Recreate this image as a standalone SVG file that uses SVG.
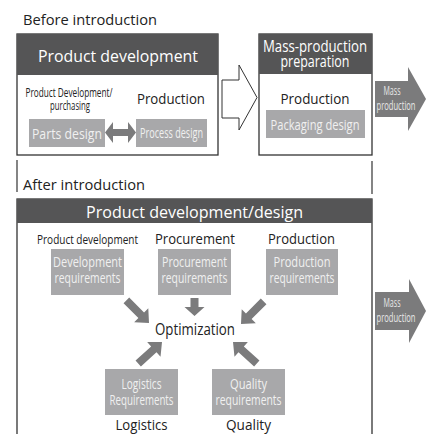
<svg xmlns="http://www.w3.org/2000/svg" xmlns:xlink="http://www.w3.org/1999/xlink" width="427" height="434" viewBox="0 0 427 434">
<style>
text{font-family:"Open Sans","Noto Sans","DejaVu Sans",sans-serif;font-weight:400;}
.frame{fill:#fff;stroke:#333;stroke-width:1.3;}
.hdr{fill:#555556;}
.hdrt{fill:#fff;font-size:16px;text-anchor:middle;}
.lbl{fill:#222;font-size:14px;text-anchor:middle;}
.sm{fill:#222;font-size:13px;text-anchor:middle;}
.gbox{fill:#a8a8aa;}
.gt{fill:#f0f0f0;font-size:14px;text-anchor:middle;}
.ar{fill:#7b7b7c;}
.mt{fill:#e8e8e8;font-size:12px;text-anchor:middle;}
.vl{stroke:#333;stroke-width:1.2;fill:none;}
</style>
<defs>
<path id="aL" d="M-32,-4 L-11,-4 L-11,-10 L0,0 L-11,10 L-11,4 L-32,4 Z"/>
<path id="aS" d="M-18,-4 L-9,-4 L-9,-10 L0,0 L-9,10 L-9,4 L-18,4 Z"/>
</defs>

<text x="23" y="25" font-size="14.5" fill="#222" textLength="134" lengthAdjust="spacingAndGlyphs">Before introduction</text>

<g id="product-development">
<rect class="frame" x="17" y="34" width="201" height="121"/>
<rect class="hdr" x="17" y="34" width="201" height="41"/>
<text class="hdrt" x="118" y="62" font-size="17" textLength="160" lengthAdjust="spacingAndGlyphs">Product development</text>
<text class="sm" x="69" y="97" textLength="87" lengthAdjust="spacingAndGlyphs">Product Development/</text>
<text class="sm" x="70" y="110" textLength="40" lengthAdjust="spacingAndGlyphs">purchasing</text>
<text class="lbl" x="171" y="104" textLength="68" lengthAdjust="spacingAndGlyphs">Production</text>
</g>

<g id="parts-design">
<rect class="gbox" x="29" y="119" width="76" height="28"/>
<text class="gt" x="67" y="139" font-size="16" textLength="70" lengthAdjust="spacingAndGlyphs">Parts design</text>
</g>
<g id="process-design">
<rect class="gbox" x="136" y="119" width="71" height="28"/>
<text class="gt" x="171.5" y="138" font-size="15" textLength="63" lengthAdjust="spacingAndGlyphs">Process design</text>
</g>

<g id="mass-production-preparation">
<rect class="frame" x="259" y="34" width="113" height="121"/>
<rect class="hdr" x="259" y="34" width="113" height="40"/>
<text class="hdrt" x="315" y="52" font-size="15" textLength="104" lengthAdjust="spacingAndGlyphs">Mass-production</text>
<text class="hdrt" x="315" y="67" font-size="15" textLength="69" lengthAdjust="spacingAndGlyphs">preparation</text>
<text class="lbl" x="315" y="104" textLength="69" lengthAdjust="spacingAndGlyphs">Production</text>
</g>
<g id="packaging-design">
<rect class="gbox" x="266" y="110" width="99" height="28"/>
<text class="gt" x="315" y="130" font-size="16" textLength="89" lengthAdjust="spacingAndGlyphs">Packaging design</text>
</g>

<g id="mass-production-1">
<polygon class="ar" points="375,81 408,81 408,67 426,99 408,131 408,117 375,117"/>
<text class="mt" x="392" y="95" textLength="17" lengthAdjust="spacingAndGlyphs">Mass</text>
<text class="mt" x="396" y="110" textLength="39" lengthAdjust="spacingAndGlyphs">production</text>
</g>

<text x="23" y="190" font-size="14.5" fill="#222" textLength="122" lengthAdjust="spacingAndGlyphs">After introduction</text>

<g id="product-development-design">
<rect class="frame" x="17" y="199" width="355" height="245"/>
<rect class="hdr" x="17" y="199" width="355" height="24"/>
<text class="hdrt" x="194.5" y="218" font-size="17" textLength="217" lengthAdjust="spacingAndGlyphs">Product development/design</text>
<text class="sm" x="87.5" y="244" font-size="14" textLength="101" lengthAdjust="spacingAndGlyphs">Product development</text>
<text class="lbl" x="195" y="244" textLength="80" lengthAdjust="spacingAndGlyphs">Procurement</text>
<text class="lbl" x="301.5" y="244" textLength="67" lengthAdjust="spacingAndGlyphs">Production</text>
</g>

<g id="development-requirements">
<rect class="gbox" x="51" y="249" width="73" height="46"/>
<text class="gt" x="87.5" y="267" textLength="69" lengthAdjust="spacingAndGlyphs">Development</text>
<text class="gt" x="87.5" y="283" textLength="66" lengthAdjust="spacingAndGlyphs">requirements</text>
</g>
<g id="procurement-requirements">
<rect class="gbox" x="158" y="249" width="73" height="46"/>
<text class="gt" x="194.5" y="267" textLength="65" lengthAdjust="spacingAndGlyphs">Procurement</text>
<text class="gt" x="194.5" y="283" textLength="66" lengthAdjust="spacingAndGlyphs">requirements</text>
</g>
<g id="production-requirements">
<rect class="gbox" x="266" y="249" width="72" height="46"/>
<text class="gt" x="302" y="267" textLength="57" lengthAdjust="spacingAndGlyphs">Production</text>
<text class="gt" x="302" y="283" textLength="65" lengthAdjust="spacingAndGlyphs">requirements</text>
</g>

<g id="optimization">
<text x="195" y="335" font-size="15.5" fill="#222" text-anchor="middle" textLength="80" lengthAdjust="spacingAndGlyphs">Optimization</text>
</g>

<g id="logistics-requirements">
<rect class="gbox" x="105" y="369" width="73" height="46"/>
<text class="gt" x="141.5" y="389" textLength="40" lengthAdjust="spacingAndGlyphs">Logistics</text>
<text class="gt" x="141.5" y="405" textLength="64" lengthAdjust="spacingAndGlyphs">Requirements</text>
<text class="lbl" x="141.5" y="430" textLength="52" lengthAdjust="spacingAndGlyphs">Logistics</text>
</g>
<g id="quality-requirements">
<rect class="gbox" x="212" y="369" width="73" height="46"/>
<text class="gt" x="248.5" y="389" textLength="37" lengthAdjust="spacingAndGlyphs">Quality</text>
<text class="gt" x="248.5" y="405" textLength="66" lengthAdjust="spacingAndGlyphs">requirements</text>
<text class="lbl" x="248.5" y="430" textLength="45" lengthAdjust="spacingAndGlyphs">Quality</text>
</g>

<g id="mass-production-2">
<polygon class="ar" points="375,292 409,292 409,279 426,311 409,343 409,330 375,330"/>
<text class="mt" x="392" y="307" textLength="17" lengthAdjust="spacingAndGlyphs">Mass</text>
<text class="mt" x="396" y="322" textLength="39" lengthAdjust="spacingAndGlyphs">production</text>
</g>

<g id="connectors">
<path class="ar" d="M105,132.5 L113,122 L113,129 L128,129 L128,122 L136,132.5 L128,143 L128,136 L113,136 L113,143 Z"/>
<polygon points="222,80 239,80 239,65 257,97.5 239,130 239,118 222,118" fill="#fff" stroke="#333" stroke-width="1"/>
<line class="vl" x1="17" y1="160" x2="17" y2="192"/>
<line class="vl" x1="372" y1="161" x2="372" y2="194"/>
<use xlink:href="#aL" class="ar" transform="translate(149,323) rotate(45)"/>
<use xlink:href="#aS" class="ar" transform="translate(194.5,316) rotate(90)"/>
<use xlink:href="#aL" class="ar" transform="translate(241,324) rotate(135)"/>
<use xlink:href="#aL" class="ar" transform="translate(162,342) rotate(-42)"/>
<use xlink:href="#aL" class="ar" transform="translate(233,342) rotate(-138)"/>
</g>
</svg>
